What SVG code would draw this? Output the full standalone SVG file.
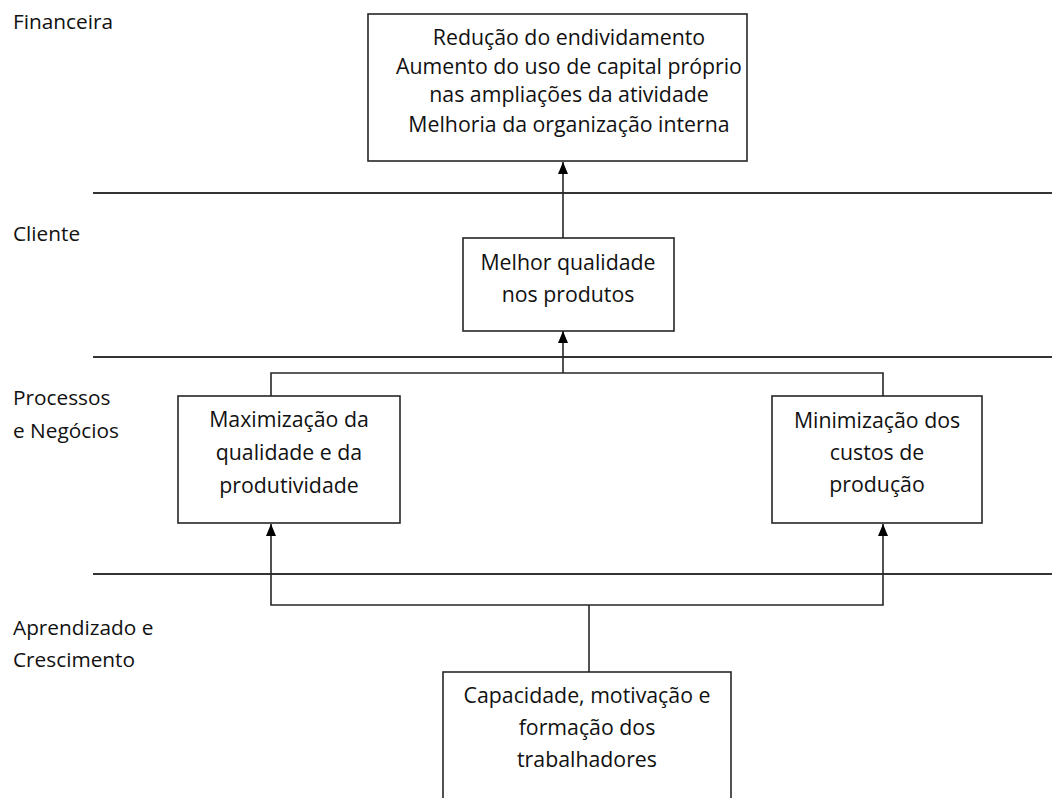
<svg xmlns="http://www.w3.org/2000/svg" width="1052" height="798" viewBox="0 0 1052 798">
<defs>
<style>
.t{font-family:"Open Sans","Liberation Sans",sans-serif;font-size:21.3px;fill:#111}
.l{font-size:20.8px}
.c{text-anchor:middle}
.box{fill:#fff;stroke:#262626;stroke-width:1.6}
.sep{stroke:#333;stroke-width:2;fill:none}
.con{stroke:#262626;stroke-width:1.6;fill:none}
</style>
<marker id="ah" markerWidth="12" markerHeight="10" refX="12" refY="5" orient="auto-start-reverse" markerUnits="userSpaceOnUse" viewBox="0 0 12 10">
<path d="M0,0 L12,5 L0,10 Z" fill="#000"/>
</marker>
</defs>
<rect width="1052" height="798" fill="#fff"/>
<g id="separators">
<line class="sep" x1="93" y1="193" x2="1052" y2="193"/>
<line class="sep" x1="93" y1="357" x2="1052" y2="357"/>
<line class="sep" x1="93" y1="574" x2="1052" y2="574"/>
</g>
<g id="labels">
<text class="t l" x="13" y="29">Financeira</text>
<text class="t l" x="13" y="241">Cliente</text>
<text class="t l" x="13" y="405">Processos</text>
<text class="t l" x="13" y="438">e Negócios</text>
<text class="t l" x="13" y="635">Aprendizado e</text>
<text class="t l" x="13" y="667">Crescimento</text>
</g>
<g id="connectors">
<line class="con" x1="563" y1="238" x2="563" y2="162" marker-end="url(#ah)"/>
<polyline class="con" points="271,396 271,373 883,373 883,396"/>
<line class="con" x1="563" y1="373" x2="563" y2="331" marker-end="url(#ah)"/>
<polyline class="con" points="271,524 271,605 883,605 883,524" marker-start="url(#ah)" marker-end="url(#ah)"/>
<line class="con" x1="589" y1="605" x2="589" y2="672"/>
</g>
<g id="node-financeira">
<rect class="box" x="368" y="14" width="379" height="147"/>
<text class="t c" x="569" y="45">Redução do endividamento</text>
<text class="t c" x="569" y="74">Aumento do uso de capital próprio</text>
<text class="t c" x="569" y="102">nas ampliações da atividade</text>
<text class="t c" x="569" y="132">Melhoria da organização interna</text>
</g>
<g id="node-cliente">
<rect class="box" x="463" y="238" width="211" height="93"/>
<text class="t c" x="568" y="270">Melhor qualidade</text>
<text class="t c" x="568" y="302">nos produtos</text>
</g>
<g id="node-maximizacao">
<rect class="box" x="178" y="396" width="222" height="127"/>
<text class="t c" x="289" y="427">Maximização da</text>
<text class="t c" x="289" y="460">qualidade e da</text>
<text class="t c" x="289" y="493">produtividade</text>
</g>
<g id="node-minimizacao">
<rect class="box" x="772" y="396" width="210" height="127"/>
<text class="t c" x="877" y="428">Minimização dos</text>
<text class="t c" x="877" y="460">custos de</text>
<text class="t c" x="877" y="492">produção</text>
</g>
<g id="node-capacidade">
<rect class="box" x="443" y="672" width="288" height="140"/>
<text class="t c" x="587" y="703">Capacidade, motivação e</text>
<text class="t c" x="587" y="735">formação dos</text>
<text class="t c" x="587" y="767">trabalhadores</text>
</g>
</svg>
